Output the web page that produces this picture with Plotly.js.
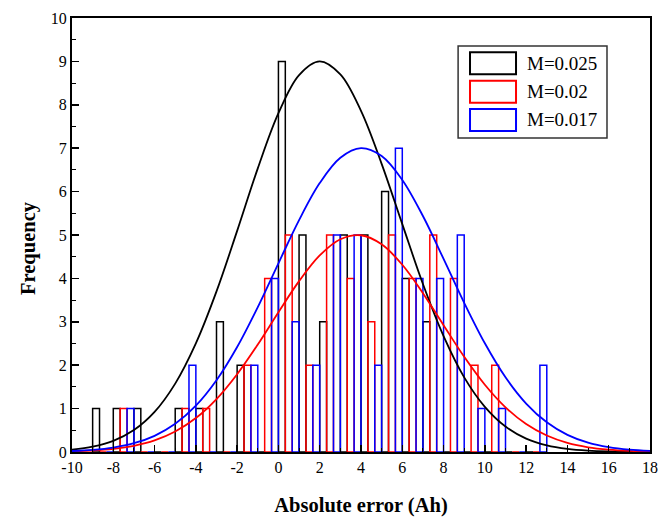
<!DOCTYPE html>
<html>
<head>
<meta charset="utf-8">
<script src="https://cdn.plot.ly/plotly-3.0.1.min.js"></script>
<style>html,body{margin:0;padding:0;background:#fff;}#chart{width:660px;height:517px;}</style>
</head>
<body>
<div id="chart"></div>
<script>
// Histogram bins (centres of unit-wide bins) and counts
const binCenters = [-8.5, -7.5, -6.5, -5.5, -4.5, -3.5, -2.5, -1.5, -0.5, 0.5, 1.5, 2.5, 3.5, 4.5, 5.5, 6.5, 7.5, 8.5, 9.5, 10.5, 11.5, 12.5];
const countsM025 = [1, 1, 1, 0, 1, 1, 3, 2, 0, 9, 5, 3, 5, 5, 6, 4, 3, 0, 0, 0, 0, 0];
const countsM020 = [0, 1, 0, 0, 1, 1, 0, 2, 4, 5, 2, 5, 4, 3, 5, 4, 5, 4, 2, 2, 0, 0];
const countsM017 = [0, 1, 0, 0, 2, 0, 0, 2, 4, 3, 2, 5, 5, 2, 7, 4, 4, 5, 1, 1, 0, 2];

// Fitted distribution curves
const curveX = [-10, -9, -8, -7, -6, -5, -4, -3, -2, -1, 0, 1, 2, 3, 4, 5, 6, 7, 8, 9, 10, 11, 12, 13, 14, 15, 16, 17, 18];
const curveM025 = [0.054, 0.122, 0.257, 0.505, 0.924, 1.576, 2.502, 3.700, 5.095, 6.535, 7.807, 8.686, 9.0, 8.70, 7.86, 6.64, 5.25, 3.87, 2.67, 1.72, 1.04, 0.586, 0.309, 0.152, 0.070, 0.030, 0.012, 0.005, 0.002];
const curveM020 = [0.015, 0.034, 0.072, 0.143, 0.267, 0.472, 0.782, 1.221, 1.793, 2.477, 3.220, 3.937, 4.530, 4.903, 4.994, 4.785, 4.314, 3.659, 2.921, 2.193, 1.549, 1.029, 0.644, 0.379, 0.210, 0.109, 0.054, 0.025, 0.011];
const curveM017 = [0.023, 0.050, 0.103, 0.202, 0.373, 0.649, 1.067, 1.653, 2.419, 3.338, 4.348, 5.343, 6.196, 6.780, 7.0, 6.819, 6.269, 5.437, 4.450, 3.437, 2.505, 1.722, 1.117, 0.684, 0.395, 0.215, 0.111, 0.054, 0.025];

const seriesNames = ['M=0.025', 'M=0.02', 'M=0.017'];
const seriesColors = ['#000000', '#ff0000', '#0000ff'];

const xTickVals = [-10, -8, -6, -4, -2, 0, 2, 4, 6, 8, 10, 12, 14, 16, 18];
const xTickText = ['-10', '-8', '-6', '-4', '-2', '0', '2', '4', '6', '8', '10', '12', '14', '16', '18'];
const yTickVals = [0, 1, 2, 3, 4, 5, 6, 7, 8, 9, 10];
const yTickText = ['0', '1', '2', '3', '4', '5', '6', '7', '8', '9', '10'];

const counts = [countsM025, countsM020, countsM017];
const curves = [curveM025, curveM020, curveM017];

const traces = [];
for (let i = 0; i < 3; i++) {
  traces.push({
    type: 'bar', x: binCenters, y: counts[i], name: seriesNames[i],
    marker: {color: 'rgba(255,255,255,0)', line: {color: seriesColors[i], width: 1.5}},
    showlegend: false, hoverinfo: 'skip'
  });
}
for (let i = 0; i < 3; i++) {
  traces.push({
    type: 'scatter', mode: 'lines', x: curveX, y: curves[i], name: seriesNames[i] + ' fit',
    line: {color: seriesColors[i], width: 1.8, shape: 'spline', smoothing: 1},
    showlegend: false, hoverinfo: 'skip'
  });
}

const serif = 'Liberation Serif, Times New Roman, serif';

// Legend drawn as a boxed key (paper coordinates)
const legX0 = 0.668, legX1 = 0.9256, legY0 = 0.7235, legY1 = 0.9355;
const symX0 = 0.6886, symX1 = 0.7682;
const rowY = [0.8956, 0.8302, 0.765];
const symH = 0.0253;
const shapes = [{type: 'rect', xref: 'paper', yref: 'paper', x0: legX0, x1: legX1, y0: legY0, y1: legY1,
  line: {color: '#333333', width: 1.5}, fillcolor: 'rgba(255,255,255,0)'}];
const annotations = [];
for (let i = 0; i < 3; i++) {
  shapes.push({type: 'rect', xref: 'paper', yref: 'paper', x0: symX0, x1: symX1, y0: rowY[i] - symH, y1: rowY[i] + symH,
    line: {color: seriesColors[i], width: 2}, fillcolor: 'rgba(255,255,255,0)'});
  annotations.push({xref: 'paper', yref: 'paper', x: 0.7837, y: rowY[i], xanchor: 'left', yanchor: 'middle',
    text: seriesNames[i], showarrow: false, font: {family: serif, size: 19, color: '#000'}});
}
// y-axis title
annotations.push({xref: 'paper', yref: 'paper', x: 0, y: 0.47, xanchor: 'center', yanchor: 'middle', xshift: -44,
  textangle: -90, text: 'Frequency', showarrow: false, font: {family: serif, size: 20.5, color: '#000', weight: 'bold'}});

const layout = {
  width: 660, height: 517,
  margin: {l: 72, r: 10, t: 18, b: 65},
  paper_bgcolor: '#ffffff', plot_bgcolor: '#ffffff',
  barmode: 'group', bargap: 0, bargroupgap: 0,
  font: {family: serif, size: 16, color: '#000'},
  xaxis: {
    range: [-10, 18], tickvals: xTickVals, ticktext: xTickText,
    ticks: 'inside', ticklen: 7, tickwidth: 1.5, tickcolor: '#000',
    minor: {dtick: 1, ticks: 'inside', ticklen: 4, tickwidth: 1, tickcolor: '#000'},
    showline: true, linewidth: 2, linecolor: '#000', mirror: true,
    showgrid: false, zeroline: false,
    tickfont: {size: 16},
    title: {text: 'Absolute error (Ah)', font: {size: 20.5, family: serif, weight: 'bold'}, standoff: 22}
  },
  yaxis: {
    range: [0, 10], tickvals: yTickVals, ticktext: yTickText,
    ticks: 'inside', ticklen: 7, tickwidth: 1.5, tickcolor: '#000',
    minor: {dtick: 0.5, ticks: 'inside', ticklen: 4, tickwidth: 1, tickcolor: '#000'},
    showline: true, linewidth: 2, linecolor: '#000', mirror: true,
    showgrid: false, zeroline: false,
    tickfont: {size: 16}
  },
  shapes: shapes,
  annotations: annotations
};

Plotly.newPlot('chart', traces, layout, {displayModeBar: false, staticPlot: true});
</script>
</body>
</html>
